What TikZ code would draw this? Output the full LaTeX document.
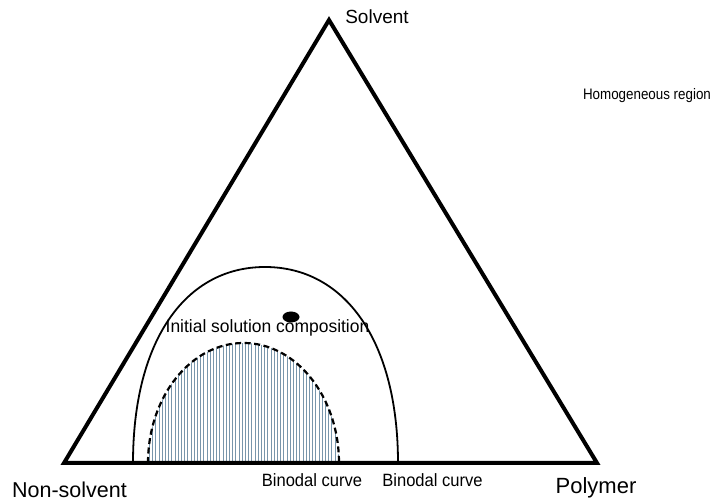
\documentclass[tikz,border=0pt]{standalone}
\usepackage{fontspec}
\setmainfont{Liberation Sans}
\begin{document}
\begin{tikzpicture}[x=1pt,y=-1pt,
  lbl/.style={inner sep=0pt, anchor=center},
  side/.style={line width=4pt, line join=miter},
  binodal/.style={line width=1.8pt},
  spinodal/.style={line width=2.2pt, dash pattern=on 6pt off 3.5pt},
  hatch/.style={line width=0.9pt, draw={rgb,255:red,120;green,150;blue,172}}]
\useasboundingbox (0,0) rectangle (716,502);

% corners of the ternary diagram
\coordinate (S) at (329,20);
\coordinate (N) at (64,463);
\coordinate (P) at (597,463);

% two-phase region under the spinodal curve
\begin{scope}
  \clip (148,463) arc[start angle=180, end angle=0, x radius=95.5pt, y radius=120pt] -- cycle;
  \foreach \i in {0,...,60}
    \draw[hatch] ({149.5+3.2*\i},330) -- ({149.5+3.2*\i},466);
\end{scope}
\draw[spinodal] (148,463) arc[start angle=180, end angle=0, x radius=95.5pt, y radius=120pt];
\fill (148,465) .. controls (200,461) and (290,460) .. (339,463) -- (339,465) -- cycle;

% binodal curve
\draw[binodal] (133,463) .. controls (133,341) and (185,267) .. (265,267)
               .. controls (345,267) and (398,341) .. (398,463);

% composition point
\fill (291,317) ellipse[x radius=8.5pt, y radius=5.5pt];

% triangle sides
\draw[side] (S) -- (N) -- (P) -- cycle;

% labels
\node[lbl, font=\fontsize{19}{19}\selectfont] (solv) at (377,17) {Solvent};
\node[lbl, xscale=0.88, font=\fontsize{15.2}{15.2}\selectfont] (homo) at (647,96) {Homogeneous region};
\node[lbl, font=\fontsize{21.5}{21.5}\selectfont] (nons) at (69.5,490) {Non-solvent};
\node[lbl, font=\fontsize{22}{22}\selectfont] (poly) at (596,488) {Polymer};
\node[lbl, xscale=0.93, font=\fontsize{17.8}{17.8}\selectfont] (bin1) at (312,480) {Binodal curve};
\node[lbl, xscale=0.93, font=\fontsize{17.8}{17.8}\selectfont] (bin2) at (432.5,480) {Binodal curve};
\node[lbl, xscale=0.98, font=\fontsize{17.8}{17.8}\selectfont] (init) at (267.5,328) {Initial solution composition};
\end{tikzpicture}
\end{document}
